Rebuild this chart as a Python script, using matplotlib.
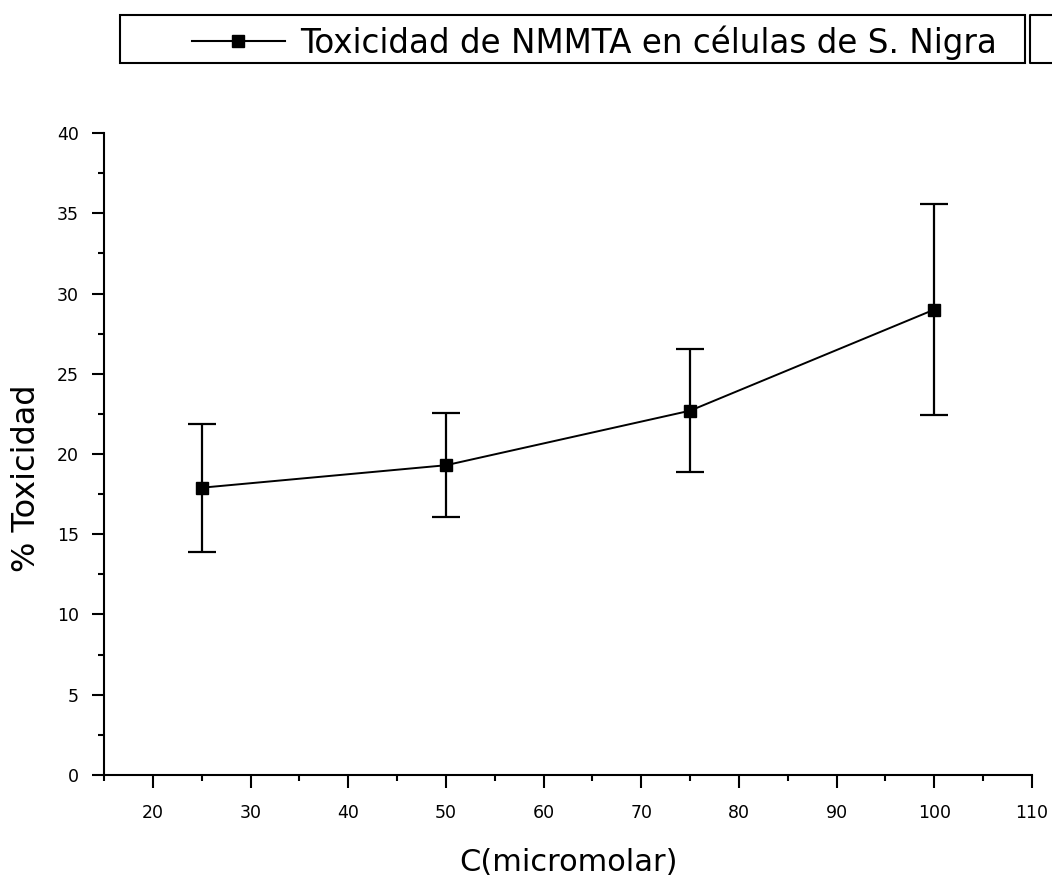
import matplotlib
matplotlib.use("Agg")
import matplotlib.pyplot as plt
from matplotlib.patches import Rectangle
from matplotlib.lines import Line2D
from matplotlib.ticker import MultipleLocator

# Data
conc = [25, 50, 75, 100]
toxicity = [17.9, 19.3, 22.7, 29.0]
tox_err = [4.0, 3.25, 3.85, 6.6]
label = "Toxicidad de NMMTA en células de S. Nigra"

plt.rcParams['font.family'] = ['DejaVu Sans']

fig = plt.figure(figsize=(10.52, 8.85), dpi=100)
ax = fig.add_axes([0.0989, 0.1243, 0.8821, 0.7254])

ax.errorbar(conc, toxicity, yerr=tox_err, color="black", marker="s",
            markersize=9, linewidth=1.4, elinewidth=1.6, capsize=10, capthick=1.6)

ax.set_xlim(15, 110)
ax.set_ylim(0, 40)
ax.xaxis.set_major_locator(MultipleLocator(10))
ax.xaxis.set_minor_locator(MultipleLocator(5))
ax.yaxis.set_major_locator(MultipleLocator(5))
ax.yaxis.set_minor_locator(MultipleLocator(2.5))
ax.set_xticks(range(20, 111, 10))

for s in ["top", "right"]:
    ax.spines[s].set_visible(False)
for s in ["left", "bottom"]:
    ax.spines[s].set_linewidth(1.5)

ax.tick_params(which="major", direction="out", length=9, width=1.5, labelsize=12.5, pad=9)
ax.tick_params(axis="x", which="major", pad=12)
ax.tick_params(which="minor", direction="out", length=4, width=1.5)

ax.set_xlabel("C(micromolar)", fontsize=22)
ax.xaxis.set_label_coords(0.5, -0.113)
ax.set_ylabel("% Toxicidad", fontsize=23)
ax.yaxis.set_label_coords(-0.067, 0.463)

# Legend box across the top
W, H = 1052, 885
fig.patches.append(Rectangle((120 / W, 1 - 63 / H), (1025 - 120) / W, 48 / H,
                             transform=fig.transFigure, fill=False,
                             edgecolor="black", linewidth=1.5))
fig.lines.append(Line2D([1.0, 1030 / W, 1030 / W, 1.0],
                        [1 - 15 / H, 1 - 15 / H, 1 - 63 / H, 1 - 63 / H],
                        transform=fig.transFigure, color="black", linewidth=1.5))
fig.lines.append(Line2D([192 / W, 285 / W], [1 - 41 / H, 1 - 41 / H],
                        transform=fig.transFigure, color="black", linewidth=1.5))
fig.lines.append(Line2D([238 / W], [1 - 41 / H], transform=fig.transFigure,
                        color="black", marker="s", markersize=9, linestyle="none"))
fig.text(300 / W, 1 - 53 / H, label, fontsize=23.5, va="baseline", ha="left")

fig.savefig("out.png", dpi=100)
